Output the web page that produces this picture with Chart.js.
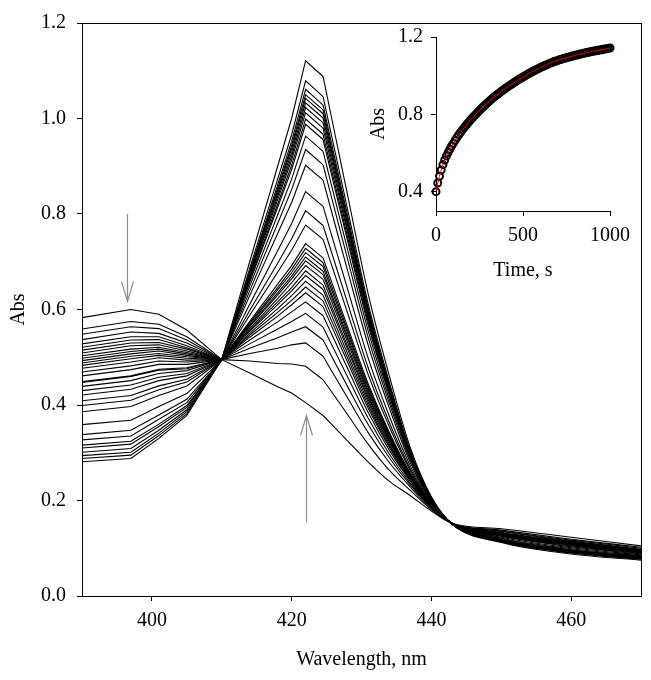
<!DOCTYPE html>
<html>
<head>
<meta charset="utf-8">
<script src="https://cdn.jsdelivr.net/npm/chart.js@4.4.1/dist/chart.umd.min.js"></script>
<style>
  html, body { margin:0; padding:0; background:#fff; }
  #wrap { position:relative; width:651px; height:680px; }
  #mainChart { position:absolute; left:0; top:0; }
  #insetChart { position:absolute; left:360px; top:17px; }
</style>
</head>
<body>
<div id="wrap">
  <canvas id="mainChart" width="651" height="680"></canvas>
  <canvas id="insetChart" width="280" height="270"></canvas>
</div>
<script>
/* spectra: wavelength grid (nm) and one absorbance list per scan */
const wavelengths = [390, 397, 401, 405, 410, 414, 418, 420, 422, 424.5, 428, 431, 434, 437, 440, 443, 450, 460, 470];

const s01 = [0.583,0.600,0.590,0.557,0.495,0.467,0.438,0.425,0.405,0.378,0.325,0.280,0.240,0.210,0.178,0.152,0.141,0.123,0.105];
const s02 = [0.559,0.575,0.569,0.543,0.495,0.492,0.487,0.486,0.481,0.453,0.380,0.317,0.263,0.221,0.181,0.152,0.138,0.119,0.102];
const s03 = [0.548,0.564,0.560,0.536,0.495,0.508,0.519,0.526,0.530,0.502,0.415,0.341,0.279,0.228,0.183,0.152,0.136,0.117,0.100];
const s04 = [0.537,0.553,0.550,0.530,0.495,0.519,0.541,0.553,0.564,0.536,0.439,0.358,0.289,0.232,0.185,0.152,0.135,0.115,0.098];
const s05 = [0.528,0.543,0.543,0.524,0.495,0.528,0.559,0.575,0.592,0.563,0.459,0.371,0.297,0.236,0.186,0.152,0.133,0.114,0.097];
const s06 = [0.521,0.536,0.537,0.520,0.495,0.536,0.574,0.595,0.616,0.587,0.477,0.383,0.305,0.240,0.187,0.152,0.132,0.113,0.096];
const s07 = [0.515,0.530,0.531,0.517,0.495,0.542,0.586,0.610,0.635,0.606,0.490,0.392,0.311,0.242,0.188,0.152,0.132,0.112,0.095];
const s08 = [0.509,0.524,0.526,0.513,0.495,0.546,0.594,0.619,0.647,0.618,0.499,0.398,0.314,0.244,0.188,0.152,0.131,0.111,0.095];
const s09 = [0.503,0.517,0.521,0.510,0.495,0.550,0.602,0.629,0.659,0.630,0.508,0.404,0.318,0.246,0.189,0.152,0.131,0.111,0.094];
const s10 = [0.498,0.512,0.517,0.507,0.495,0.554,0.610,0.639,0.671,0.642,0.517,0.410,0.322,0.247,0.189,0.152,0.130,0.110,0.094];
const s11 = [0.493,0.507,0.513,0.504,0.495,0.557,0.616,0.646,0.681,0.651,0.523,0.415,0.325,0.249,0.190,0.152,0.130,0.110,0.093];
const s12 = [0.488,0.502,0.508,0.501,0.495,0.560,0.623,0.656,0.692,0.663,0.532,0.420,0.328,0.250,0.190,0.152,0.129,0.109,0.093];
const s13 = [0.483,0.497,0.504,0.498,0.495,0.564,0.630,0.664,0.702,0.673,0.539,0.425,0.331,0.252,0.190,0.152,0.129,0.108,0.093];
const s14 = [0.477,0.490,0.499,0.494,0.495,0.566,0.635,0.670,0.710,0.680,0.544,0.429,0.334,0.253,0.191,0.152,0.129,0.108,0.092];
const s15 = [0.469,0.482,0.492,0.490,0.495,0.569,0.641,0.677,0.719,0.690,0.551,0.434,0.337,0.254,0.191,0.152,0.128,0.108,0.092];
const s16 = [0.461,0.474,0.485,0.485,0.495,0.572,0.646,0.684,0.728,0.698,0.557,0.438,0.339,0.255,0.192,0.152,0.128,0.107,0.091];
const s17 = [0.449,0.461,0.475,0.478,0.495,0.575,0.653,0.692,0.738,0.708,0.564,0.443,0.342,0.257,0.192,0.152,0.128,0.107,0.091];
const s18 = [0.447,0.460,0.473,0.476,0.495,0.588,0.678,0.724,0.777,0.747,0.593,0.462,0.354,0.262,0.194,0.151,0.126,0.105,0.089];
const s19 = [0.439,0.451,0.466,0.472,0.495,0.598,0.697,0.748,0.807,0.776,0.614,0.476,0.363,0.266,0.195,0.151,0.125,0.103,0.088];
const s20 = [0.430,0.442,0.458,0.466,0.495,0.611,0.723,0.780,0.847,0.816,0.643,0.496,0.376,0.272,0.197,0.151,0.123,0.101,0.086];
const s21 = [0.421,0.433,0.451,0.461,0.495,0.629,0.759,0.824,0.902,0.871,0.682,0.523,0.393,0.279,0.199,0.151,0.121,0.099,0.084];
const s22 = [0.409,0.420,0.440,0.454,0.495,0.639,0.780,0.851,0.935,0.903,0.706,0.539,0.403,0.284,0.200,0.151,0.120,0.097,0.083];
const s23 = [0.399,0.410,0.432,0.448,0.495,0.649,0.798,0.873,0.963,0.931,0.726,0.553,0.411,0.288,0.201,0.151,0.118,0.096,0.082];
const s24 = [0.386,0.397,0.420,0.440,0.495,0.657,0.814,0.893,0.988,0.956,0.744,0.565,0.419,0.291,0.202,0.150,0.117,0.095,0.081];
const s25 = [0.359,0.368,0.397,0.424,0.495,0.660,0.821,0.902,0.999,0.967,0.752,0.571,0.423,0.293,0.203,0.150,0.117,0.094,0.080];
const s26 = [0.338,0.347,0.379,0.412,0.495,0.665,0.830,0.913,1.012,0.980,0.762,0.577,0.427,0.295,0.203,0.150,0.116,0.093,0.080];
const s27 = [0.327,0.335,0.370,0.405,0.495,0.668,0.837,0.921,1.023,0.991,0.769,0.582,0.430,0.296,0.204,0.150,0.116,0.093,0.079];
const s28 = [0.316,0.324,0.360,0.399,0.495,0.671,0.843,0.929,1.033,1.001,0.777,0.587,0.433,0.298,0.204,0.150,0.116,0.092,0.079];
const s29 = [0.310,0.318,0.355,0.395,0.495,0.674,0.849,0.937,1.042,1.010,0.783,0.592,0.436,0.299,0.205,0.150,0.115,0.092,0.078];
const s30 = [0.301,0.309,0.347,0.390,0.495,0.677,0.854,0.943,1.050,1.018,0.789,0.595,0.438,0.300,0.205,0.150,0.115,0.091,0.078];
const s31 = [0.294,0.301,0.341,0.386,0.495,0.680,0.861,0.952,1.061,1.028,0.797,0.601,0.442,0.302,0.205,0.150,0.114,0.091,0.078];
const s32 = [0.288,0.295,0.336,0.382,0.495,0.686,0.873,0.966,1.079,1.046,0.810,0.609,0.447,0.304,0.206,0.150,0.113,0.090,0.077];
const s33 = [0.281,0.288,0.330,0.378,0.495,0.700,0.900,1.000,1.121,1.088,0.840,0.630,0.460,0.310,0.208,0.150,0.112,0.088,0.075];

const spectra = [s01,s02,s03,s04,s05,s06,s07,s08,s09,s10,s11,s12,s13,s14,s15,s16,s17,s18,s19,s20,
                 s21,s22,s23,s24,s25,s26,s27,s28,s29,s30,s31,s32,s33];

const xTicks = [400, 420, 440, 460];
const yTicks = [0, 0.2, 0.4, 0.6, 0.8, 1.0, 1.2];

/* inset: kinetic trace at 422 nm */
const kinTime = [0,10,20,30,40,50,60,70,80,90,100,110,120,130,140,150,160,170,180,190,200,
  210,220,230,240,250,260,270,280,290,300,310,320,330,340,350,360,370,380,390,400,
  410,420,430,440,450,460,470,480,490,500,510,520,530,540,550,560,570,580,590,600,
  610,620,630,640,650,660,670,680,690,700,710,720,730,740,750,760,770,780,790,800,
  810,820,830,840,850,860,870,880,890,900,910,920,930,940,950,960,970,980,990,1000];
const kinAbs = [0.400,0.445,0.480,0.512,0.540,0.564,0.585,0.603,0.620,0.636,0.651,0.666,0.680,0.693,0.706,0.718,
  0.729,0.740,0.751,0.762,0.772,0.782,0.792,0.801,0.811,0.820,0.829,0.838,0.846,0.855,0.863,0.871,
  0.879,0.887,0.894,0.901,0.908,0.915,0.922,0.928,0.935,0.941,0.947,0.953,0.959,0.965,0.971,0.977,
  0.983,0.988,0.993,0.998,1.004,1.009,1.014,1.019,1.024,1.028,1.033,1.037,1.042,1.046,1.050,1.054,
  1.058,1.062,1.066,1.069,1.073,1.076,1.079,1.082,1.085,1.088,1.090,1.093,1.095,1.098,1.100,1.103,
  1.105,1.107,1.110,1.112,1.114,1.116,1.118,1.120,1.122,1.124,1.126,1.127,1.129,1.131,1.133,1.134,
  1.136,1.138,1.139,1.141,1.143];
const insetXTicks = [0, 500, 1000];
const insetYTicks = [0.4, 0.8, 1.2];

Chart.defaults.font.family = '"Liberation Serif", "Times New Roman", serif';
Chart.defaults.font.size = 20;
Chart.defaults.color = '#000';

// box round the main plot area
const framePlugin = {
  id: 'frame',
  afterDraw(chart) {
    const a = chart.chartArea, ctx = chart.ctx;
    ctx.save();
    ctx.strokeStyle = '#000';
    ctx.lineWidth = 1;
    ctx.strokeRect(Math.round(a.left) + 0.5, Math.round(a.top) + 0.5,
                   Math.round(a.right - a.left), Math.round(a.bottom - a.top));
    ctx.restore();
  }
};

// grey arrows, given in data units
const arrows = [
  { x: 396.4, from: 0.80, to: 0.617 },
  { x: 422.0, from: 0.155, to: 0.378 }
];
const arrowPlugin = {
  id: 'arrows',
  afterDatasetsDraw(chart) {
    const ctx = chart.ctx, xs = chart.scales.x, ys = chart.scales.y;
    ctx.save();
    ctx.strokeStyle = '#8c8c8c';
    ctx.lineWidth = 1.2;
    arrows.forEach(a => {
      const px = Math.round(xs.getPixelForValue(a.x)) + 0.5;
      const y0 = ys.getPixelForValue(a.from), y1 = ys.getPixelForValue(a.to);
      const dir = y1 > y0 ? 1 : -1;
      ctx.beginPath();
      ctx.moveTo(px, y0); ctx.lineTo(px, y1);
      ctx.moveTo(px - 6, y1 - dir * 20); ctx.lineTo(px, y1); ctx.lineTo(px + 6, y1 - dir * 20);
      ctx.stroke();
    });
    ctx.restore();
  }
};

function axisStyle(extra) {
  return Object.assign({
    border: { color: '#000', width: 1 },
    grid: { drawOnChartArea: false, color: '#000', tickLength: 5, tickWidth: 1 }
  }, extra);
}

// each scan: straight segments up to 424.5 nm, smooth tail after it
const PEAK_END = 9;
const mainDatasets = [];
spectra.forEach(s => {
  const pts = wavelengths.map((w, i) => ({ x: w, y: s[i] }));
  mainDatasets.push({ data: pts.slice(0, PEAK_END + 1), borderColor: '#000', borderWidth: 1.1,
                      pointRadius: 0, tension: 0, fill: false });
  mainDatasets.push({ data: pts.slice(PEAK_END), borderColor: '#000', borderWidth: 1.1,
                      pointRadius: 0, cubicInterpolationMode: 'monotone', fill: false });
});

new Chart(document.getElementById('mainChart'), {
  type: 'line',
  data: { datasets: mainDatasets },
  options: {
    responsive: false, animation: false,
    layout: { padding: { left: 0, top: 16, right: 10, bottom: 0 } },
    plugins: { legend: { display: false }, tooltip: { enabled: false } },
    scales: {
      x: axisStyle({
        type: 'linear', min: 390, max: 470,
        afterBuildTicks: s => { s.ticks = xTicks.map(v => ({ value: v })); },
        afterFit: s => { s.height = 84; },
        ticks: { padding: 8, maxRotation: 0, callback: v => String(v) },
        title: { display: true, text: 'Wavelength, nm', padding: { top: 0, bottom: 8 } }
      }),
      y: axisStyle({
        min: 0, max: 1.2,
        afterBuildTicks: s => { s.ticks = yTicks.map(v => ({ value: v })); },
        afterFit: s => { s.width = 82; },
        ticks: { padding: 11, callback: v => v.toFixed(1) },
        title: { display: true, text: 'Abs', padding: { top: 7, bottom: 0 } }
      })
    }
  },
  plugins: [framePlugin, arrowPlugin]
});

new Chart(document.getElementById('insetChart'), {
  type: 'line',
  data: {
    datasets: [
      { // fitted curve, red, drawn on top
        data: kinTime.map((t, i) => ({ x: t, y: kinAbs[i] })),
        borderColor: '#e00000', borderWidth: 1, pointRadius: 0, tension: 0, order: 0, clip: false
      },
      { // measured points, open circles packed into a dark band
        data: kinTime.map((t, i) => ({ x: t, y: kinAbs[i] })),
        showLine: false, pointRadius: 3.5, pointBorderWidth: 2,
        pointBorderColor: '#000', pointBackgroundColor: 'rgba(255,255,255,0)', order: 1, clip: false
      }
    ]
  },
  options: {
    responsive: false, animation: false,
    layout: { padding: { left: 0, top: 20, right: 30, bottom: 0 } },
    plugins: { legend: { display: false }, tooltip: { enabled: false } },
    scales: {
      x: axisStyle({
        type: 'linear', min: 0, max: 1000,
        afterBuildTicks: s => { s.ticks = insetXTicks.map(v => ({ value: v })); },
        afterFit: s => { s.height = 76; },
        ticks: { padding: 8, maxRotation: 0, callback: v => String(v) },
        title: { display: true, text: 'Time, s', padding: { top: 0, bottom: 4 } }
      }),
      y: axisStyle({
        min: 0.3, max: 1.2,
        afterBuildTicks: s => { s.ticks = insetYTicks.map(v => ({ value: v })); },
        afterFit: s => { s.width = 76; },
        ticks: { padding: 8, callback: v => v.toFixed(1) },
        title: { display: true, text: 'Abs', padding: { top: 7, bottom: 0 } }
      })
    }
  }
});
</script>
</body>
</html>
